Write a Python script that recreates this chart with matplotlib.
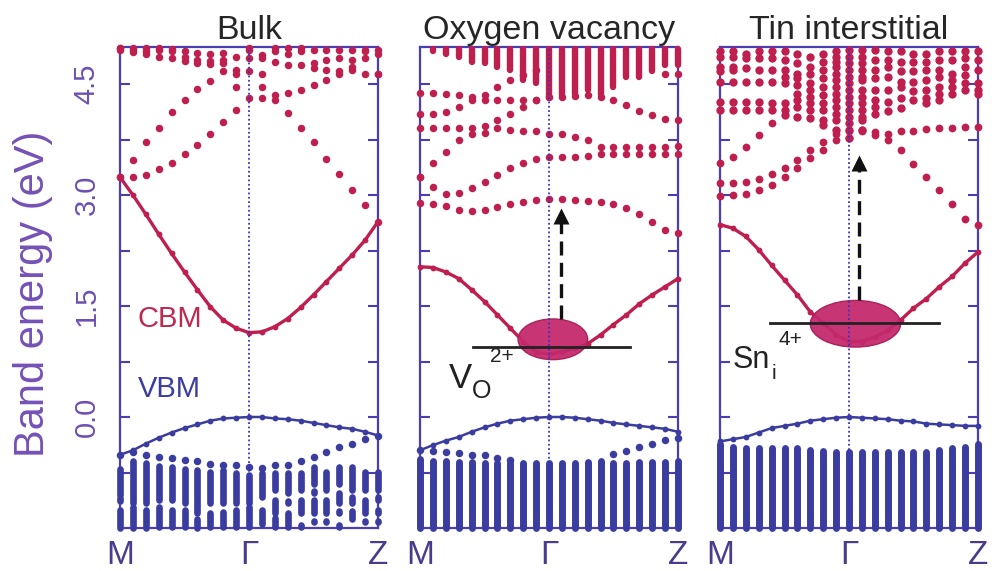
import numpy as np
import matplotlib
matplotlib.use("Agg")
import matplotlib.pyplot as plt
from matplotlib.patches import Ellipse

plt.rcParams['font.family'] = ['Liberation Sans', 'DejaVu Sans']

nan = np.nan
titles = ["Bulk", "Oxygen vacancy", "Tin interstitial"]
k_ticks = [0, 10, 20]
k_labels = ["M", "Γ", "Z"]
e_major = [0.0, 1.5, 3.0, 4.5]
e_minor = [-0.75, 0.75, 2.25, 3.75]

# ---------------- bulk SnO2 (21 k-points M -> Γ -> Z) ----------------
bulk_cb = [3.24, 3.00, 2.74, 2.47, 2.21, 1.96, 1.72, 1.49, 1.31, 1.20, 1.14,
           1.15, 1.22, 1.33, 1.48, 1.65, 1.83, 2.01, 2.19, 2.39, 2.64]
bulk_vb = [-0.51, -0.45, -0.36, -0.28, -0.21, -0.15, -0.10, -0.05, -0.02, -0.01, 0.00,
           0.00, -0.02, -0.03, -0.05, -0.08, -0.11, -0.14, -0.16, -0.20, -0.25]
bulk_vb2 = [-0.51, -0.47, -0.51, -0.54, -0.56, -0.58, -0.60, -0.63, -0.65, -0.65, -0.67,
            -0.69, -0.65, -0.65, -0.60, -0.54, -0.47, -0.41, -0.36, -0.30, -0.25]
bulk_upper = [
    [3.24, 3.25, 3.27, 3.35, 3.43, 3.55, 3.68, 3.82, 3.98, 4.15, 4.31,
     4.31, 4.29, 4.11, 3.91, 3.71, 3.49, 3.28, 3.07, 2.86, 2.64],
    [3.24, 3.47, 3.71, 3.91, 4.12, 4.28, 4.43, 4.54, 4.67, 4.69, 4.67,
     4.46, 4.35, 4.38, 4.42, 4.49, 4.55, 4.64, 4.69, 4.64, 4.64],
    [4.96, 4.93, 4.91, 4.87, 4.85, 4.81, 4.79, 4.77, 4.83, 4.46, 4.85,
     4.64, 4.80, 4.76, 4.76, 4.71, 4.69, 4.67, 4.73, 4.85, 4.64],
    [4.98, 4.96, 4.95, 4.96, 4.95, 4.87, 4.82, 4.81, 4.78, 4.64, 4.96,
     4.85, 4.94, 4.91, 4.94, 4.78, 4.82, 4.85, 4.82, 4.94, 4.91],
    [4.99, 4.99, 4.98, 4.98, 4.97, 4.94, 4.92, 4.90, 4.92, 4.87, 4.99,
     4.89, 4.98, 4.98, 4.98, 4.96, 4.96, 4.96, 4.96, 4.96, 4.96],
]
# valence manifold: (top, bottom) stretches of dots at each k-point
bulk_vb_segs = [
    [(-0.70, -1.05), (-1.10, -1.14), (-1.26, -1.50)],
    [(-0.60, -1.16), (-1.22, -1.50)],
    [(-0.62, -1.16), (-1.26, -1.50)],
    [(-0.66, -1.12), (-1.22, -1.48)],
    [(-0.67, -1.12), (-1.26, -1.48)],
    [(-0.70, -1.16), (-1.26, -1.48)],
    [(-0.72, -1.30), (-1.38, -1.50)],
    [(-0.74, -1.16), (-1.30, -1.48)],
    [(-0.72, -1.16), (-1.28, -1.48)],
    [(-0.75, -1.16), (-1.26, -1.48)],
    [(-0.78, -1.16), (-1.22, -1.48)],
    [(-0.76, -1.08), (-1.26, -1.44)],
    [(-0.76, -0.98), (-1.12, -1.30), (-1.36, -1.48)],
    [(-0.76, -1.03), (-1.14, -1.16), (-1.30, -1.48)],
    [(-0.76, -0.98), (-1.12, -1.30), (-1.37, -1.37), (-1.46, -1.48)],
    [(-0.68, -0.90), (-1.00, -1.03), (-1.12, -1.30), (-1.40, -1.42)],
    [(-0.74, -0.98), (-1.12, -1.30), (-1.40, -1.42)],
    [(-0.68, -0.90), (-1.03, -1.16), (-1.27, -1.30), (-1.46, -1.48)],
    [(-0.67, -0.98), (-1.08, -1.16), (-1.27, -1.38)],
    [(-0.74, -0.98), (-1.12, -1.30), (-1.40, -1.42)],
    [(-0.74, -0.98), (-1.08, -1.12), (-1.26, -1.30), (-1.40, -1.42)],
]

# ---------------- oxygen vacancy supercell ----------------
ov_cb = [2.03, 2.02, 1.96, 1.87, 1.72, 1.56, 1.38, 1.20, 1.02, 0.88, 0.85,
         0.88, 0.93, 0.99, 1.11, 1.25, 1.38, 1.53, 1.65, 1.76, 1.87]
ov_vb = [-0.45, -0.38, -0.32, -0.27, -0.20, -0.14, -0.09, -0.05, -0.03, -0.01, 0.00,
         0.00, -0.01, -0.03, -0.05, -0.08, -0.10, -0.12, -0.14, -0.16, -0.20]
ov_vb2 = [-0.45, -0.46, -0.47, -0.49, -0.51, -0.52, -0.55, -0.58, nan, nan, nan,
          nan, nan, nan, nan, -0.50, -0.46, -0.40, -0.36, -0.31, -0.29]
ov_vb_top = [-0.57, -0.60, -0.60, -0.61, -0.61, -0.62, -0.62, -0.62, -0.62, -0.62, -0.62,
             -0.62, -0.62, -0.61, -0.60, -0.62, -0.62, -0.61, -0.61, -0.61, -0.60]
ov_upper = [
    [2.89, 2.88, 2.85, 2.80, 2.79, 2.80, 2.84, 2.88, 2.91, 2.93, 2.94,
     2.94, 2.93, 2.92, 2.91, 2.88, 2.83, 2.74, 2.63, 2.53, 2.49],
    [3.25, 3.11, 3.02, 3.03, 3.10, 3.18, 3.27, 3.36, 3.43, 3.49, 3.51,
     3.51, 3.52, 3.53, 3.56, 3.56, 3.56, 3.56, 3.56, 3.56, 3.56],
    [3.25, 3.43, 3.58, 3.74, 3.83, 3.84, 4.01, 4.10, 4.19, 4.28, nan,
     nan, nan, nan, nan, nan, nan, nan, nan, nan, nan],
    [3.90, 3.90, 3.90, 3.90, 3.91, 3.93, 3.90, 3.88, 3.86, 3.86, 3.83,
     3.82, 3.79, 3.74, 3.65, 3.65, 3.65, 3.65, 3.65, 3.65, 3.66],
    [4.09, 4.09, 4.12, 4.19, 4.28, 4.35, 4.46, 4.55, 4.62, 4.69, nan,
     nan, nan, nan, nan, nan, nan, nan, nan, 4.64, 4.64],
    [4.38, 4.38, 4.36, 4.35, 4.32, 4.29, 4.28, 4.28, 4.28, 4.29, 4.33,
     4.33, 4.34, 4.35, 4.32, 4.28, 4.21, 4.14, 4.08, 4.03, 4.01],
]
ov_cb_top = [4.97] * 21
ov_cb_bottom = [4.97, 4.94, 4.91, 4.87, 4.80, 4.78, 4.73, 4.69, 4.55, 4.51, 4.31,
                4.35, 4.37, 4.42, 4.35, 4.46, 4.60, 4.60, 4.67, 4.76, 4.76]

# ---------------- tin interstitial supercell ----------------
sn_cb = [2.60, 2.55, 2.44, 2.26, 2.05, 1.85, 1.65, 1.42, 1.27, 1.11, 1.02,
         1.02, 1.08, 1.17, 1.31, 1.47, 1.60, 1.76, 1.90, 2.08, 2.23]
sn_vb = [-0.33, -0.30, -0.27, -0.21, -0.15, -0.12, -0.09, -0.05, -0.03, -0.01, 0.00,
         -0.01, -0.02, -0.03, -0.05, -0.06, -0.09, -0.10, -0.11, -0.12, -0.12]
sn_vb_top = [-0.36, -0.40, -0.42, -0.42, -0.42, -0.42, -0.42, -0.45, -0.46, -0.47, -0.47,
             -0.47, -0.47, -0.47, -0.47, -0.47, -0.47, -0.45, -0.42, -0.40, -0.37]
sn_upper = [
    [2.98, 3.00, 3.01, 3.07, 3.14, 3.25, 3.36, 3.50, 3.61, 3.74, 3.77,
     3.86, 3.81, 3.74, 3.61, 3.42, 3.25, 3.07, 2.88, 2.68, 2.59],
    [3.16, 3.16, 3.18, 3.21, 3.29, 3.36, 3.47, 3.61, 3.72, 3.83, 3.86,
     3.88, 3.85, 3.83, 3.86, 3.87, 3.89, 3.90, 3.91, 3.92, 3.92],
    [3.43, 3.51, 3.65, 3.81, 3.97, nan, nan, nan, nan, nan, nan,
     nan, nan, nan, nan, nan, nan, nan, nan, nan, nan],
]
sn_cb_levels = [
    [4.94, 4.87, 4.73, 4.67, 4.53, 4.26, 4.15],
    [4.94, 4.87, 4.73, 4.69, 4.53, 4.26, 4.15],
    [4.91, 4.85, 4.71, 4.53, 4.26, 4.15],
    [4.94, 4.85, 4.69, 4.53, 4.26, 4.15],
    [4.94, 4.85, 4.69, 4.53, 4.24, 4.15],
    [4.94, 4.82, 4.69, 4.60, 4.51, 4.24, 4.15, 4.08],
    [4.91, 4.78, 4.64, 4.58, 4.49, 4.37, 4.28, 4.19, 4.06],
    [4.87, 4.73, 4.64, 4.51, 4.42, 4.33, 4.24, 4.15, 4.04],
    [4.91, 4.80, 4.69, 4.58, 4.46, 4.35, 4.24, 4.15, 4.01, 3.95],
    [4.94, 4.87, 4.80, 4.73, 4.64, 4.55, 4.46, 4.37, 4.28, 4.19, 4.10, 4.01, 3.88],
    [4.96, 4.87, 4.78, 4.69, 4.60, 4.51, 4.42, 4.33, 4.24, 4.15, 4.06, 3.97, 3.88, 3.77],
    [4.96, 4.87, 4.78, 4.69, 4.60, 4.55, 4.42, 4.33, 4.24, 4.15, 4.06, 4.01, 3.88],
    [4.96, 4.82, 4.69, 4.58, 4.42, 4.28, 4.19, 4.10],
    [4.94, 4.82, 4.73, 4.60, 4.42, 4.26, 4.13],
    [4.94, 4.80, 4.67, 4.53, 4.46, 4.31, 4.17],
    [4.91, 4.80, 4.67, 4.53, 4.40, 4.28],
    [4.91, 4.80, 4.69, 4.55, 4.42, 4.31, 4.24],
    [4.94, 4.82, 4.69, 4.60, 4.46, 4.37, 4.28],
    [4.94, 4.82, 4.64, 4.55, 4.46, 4.37],
    [4.94, 4.85, 4.73, 4.62, 4.51, 4.42],
    [4.94, 4.82, 4.69, 4.51, 4.42, 4.37],
]

# defect states: (k centre, E centre, k width, E height), level line, excitation arrow
ov_blob = (10.3, 1.05, 5.4, 0.55)
ov_level = (4.1, 16.3, 0.94)
ov_arrow = (10.9, 1.33, 2.80)
sn_blob = (10.5, 1.26, 7.0, 0.63)
sn_level = (3.9, 17.0, 1.27)
sn_arrow = (10.8, 1.58, 3.52)

RED = "#bf1f4f"
BLUE = "#3b3c9f"
FRAME = "#4b3db3"
TICKLAB = "#6c4fb4"
GAMMA = "#3a32c8"
BLOB = "#c42a6c"


def k_of(vals):
    return np.arange(len(vals))


def dots(ax, vals, color, ms=5.0):
    ax.plot(k_of(vals), vals, "o", ms=ms, color=color, mec="none",
            clip_on=False, zorder=3)


def band_line(ax, vals, color, lw):
    ax.plot(k_of(vals), vals, "-o", lw=lw, ms=4.2, color=color, mec="none",
            clip_on=False, zorder=4)


def columns(ax, tops, bottoms, color, lw):
    lc = ax.vlines(k_of(tops), bottoms, tops, colors=color, lw=lw,
                   clip_on=False, zorder=3)
    lc.set_capstyle("round")


def style_axis(ax, first):
    ax.set_xlim(0, 20)
    ax.set_ylim(-1.5, 5.0)
    for s in ax.spines.values():
        s.set_color(FRAME)
        s.set_linewidth(1.6)
    ax.set_xticks(k_ticks)
    ax.set_xticklabels(k_labels, fontsize=24, color="#4a3b8e")
    ax.tick_params(axis="x", length=0, pad=9)
    ax.set_yticks(e_major)
    ax.set_yticks(e_minor, minor=True)
    ax.tick_params(axis="y", which="both", direction="in", left=True, right=True,
                   length=7, width=1.5, color=FRAME)
    if first:
        ax.set_yticklabels([f"{v:.1f}" for v in e_major], rotation=90,
                           va="center", fontsize=21, color=TICKLAB)
        ax.tick_params(axis="y", pad=14)
    else:
        ax.set_yticklabels([])
    ax.axvline(10, color=GAMMA, ls=(0, (1, 1.4)), lw=1.3, zorder=6)


def defect(ax, blob, level, arrow):
    kc, ec, w, h = blob
    ax.add_patch(Ellipse((kc, ec), w, h, facecolor=BLOB, edgecolor="#a81e55",
                         lw=1.0, alpha=0.95, zorder=5))
    k0, k1, el = level
    ax.plot([k0, k1], [el, el], color="#222222", lw=2.0, zorder=7)
    ka, e0, e1 = arrow
    ax.plot([ka, ka], [e0, e1 - 0.12], color="#111111", lw=2.4,
            dashes=(4.2, 2.2), zorder=7)
    ax.plot([ka], [e1 - 0.09], marker="^", ms=11, color="#111111", mec="none",
            zorder=7)


fig = plt.figure(figsize=(9.94, 5.71), dpi=100)
lefts = [120, 420, 720]
axes = [fig.add_axes([l / 994, 43 / 571, 258 / 994, 481 / 571]) for l in lefts]

# bulk panel
ax = axes[0]
for band in bulk_upper:
    dots(ax, band, RED, ms=5.4)
band_line(ax, bulk_cb, RED, 2.4)
dots(ax, bulk_vb2, BLUE, ms=5.4)
for k, segs in enumerate(bulk_vb_segs):
    for top, bot in segs:
        lc = ax.vlines(k, bot, top, colors=BLUE, lw=4.8, clip_on=False, zorder=3)
        lc.set_capstyle("round")
band_line(ax, bulk_vb, BLUE, 1.8)
ax.text(1.35, 1.32, "CBM", color="#c0284f", fontsize=21, va="center", ha="left")
ax.text(1.35, 0.38, "VBM", color="#3b3c9f", fontsize=21, va="center", ha="left")

# oxygen vacancy panel
ax = axes[1]
columns(ax, ov_cb_top, ov_cb_bottom, RED, 4.6)
for band in ov_upper:
    dots(ax, band, RED, ms=5.4)
band_line(ax, ov_cb, RED, 2.4)
columns(ax, ov_vb_top, [-1.5] * 21, BLUE, 5.0)
dots(ax, ov_vb2, BLUE, ms=5.4)
band_line(ax, ov_vb, BLUE, 1.8)
defect(ax, ov_blob, ov_level, ov_arrow)
ax.text(2.2, 0.39, "V", fontsize=25, color="#222222", ha="left", va="baseline")
ax.text(4.05, 0.26, "O", fontsize=18, color="#222222", ha="left", va="baseline")
ax.text(5.45, 0.74, "2+", fontsize=15, color="#222222", ha="left", va="baseline")

# tin interstitial panel
ax = axes[2]
for k, lv in enumerate(sn_cb_levels):
    ax.plot([k] * len(lv), lv, "o", ms=6.0, color=RED, mec="none", clip_on=False, zorder=3)
for band in sn_upper:
    dots(ax, band, RED, ms=5.6)
band_line(ax, sn_cb, RED, 2.4)
columns(ax, sn_vb_top, [-1.5] * 21, BLUE, 5.0)
band_line(ax, sn_vb, BLUE, 1.8)
defect(ax, sn_blob, sn_level, sn_arrow)
ax.text(1.0, 0.66, "Sn", fontsize=22, color="#222222", ha="left", va="baseline")
ax.text(4.0, 0.52, "i", fontsize=15, color="#222222", ha="left", va="baseline")
ax.text(4.55, 0.97, "4+", fontsize=15, color="#222222", ha="left", va="baseline")

for i, ax in enumerate(axes):
    style_axis(ax, i == 0)
    ax.set_title(titles[i], fontsize=24.5, color="#262626", pad=6)

fig.text(33 / 994, 1 - 294 / 571, "Band energy (eV)", rotation=90, ha="center",
         va="center", fontsize=30, color="#7452b6")

fig.savefig("out.png", dpi=100)
